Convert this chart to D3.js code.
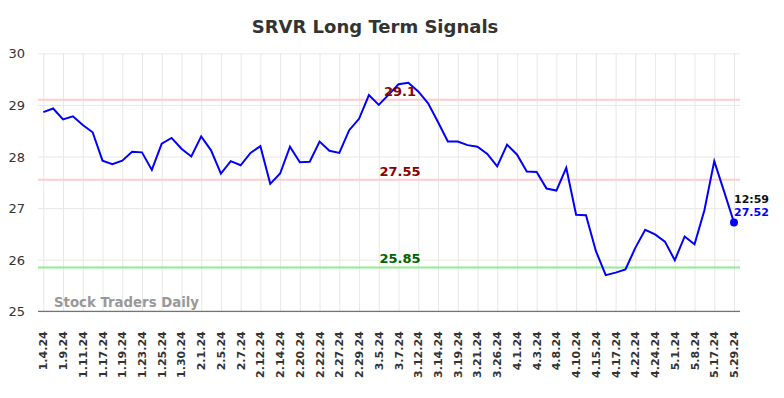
<!DOCTYPE html>
<html>
<head>
<meta charset="utf-8">
<script src="https://cdn.jsdelivr.net/npm/d3@7"></script>
<style>
  body { margin: 0; background: #fff; }
  svg { font-family: "DejaVu Sans", sans-serif; }
  .grid line { stroke: #e8e8e8; }
  .grid path { display: none; }
</style>
</head>
<body>
<div id="chart"></div>
<script>
// tick labels under every second point
const dateLabels = ["1.4.24", "1.9.24", "1.11.24", "1.17.24", "1.19.24", "1.23.24", "1.25.24", "1.30.24",
  "2.1.24", "2.5.24", "2.7.24", "2.12.24", "2.14.24", "2.20.24", "2.22.24", "2.27.24", "2.29.24",
  "3.5.24", "3.7.24", "3.12.24", "3.14.24", "3.19.24", "3.21.24", "3.26.24", "4.1.24", "4.3.24",
  "4.8.24", "4.10.24", "4.15.24", "4.17.24", "4.22.24", "4.24.24", "5.1.24", "5.8.24", "5.17.24", "5.29.24"];

// closing prices
const prices = [28.86, 28.93, 28.72, 28.78, 28.61, 28.47, 27.92, 27.85, 27.92, 28.09,
  28.08, 27.74, 28.25, 28.36, 28.15, 28.00, 28.39, 28.12, 27.67, 27.91,
  27.83, 28.07, 28.20, 27.47, 27.67, 28.19, 27.89, 27.90, 28.29, 28.11,
  28.07, 28.51, 28.73, 29.19, 29.00, 29.20, 29.40, 29.43, 29.26, 29.03,
  28.67, 28.29, 28.29, 28.22, 28.19, 28.05, 27.81, 28.23, 28.04, 27.71,
  27.70, 27.38, 27.34, 27.78, 26.87, 26.86, 26.17, 25.70, 25.75, 25.81,
  26.23, 26.58, 26.49, 26.35, 25.99, 26.45, 26.30, 26.96, 27.91, 27.32, 26.72];

const signalValues = [29.1, 27.55, 25.85];
const signalNames = ["29.1", "27.55", "25.85"];
const yTicks = [25, 26, 27, 28, 29, 30];
const lastTime = "12:59";
const lastPrice = "27.52";

const width = 784, height = 398;
const plot = { left: 38, right: 740, top: 53.3, bottom: 311.3 };

const svg = d3.select("#chart").append("svg")
  .attr("width", width)
  .attr("height", height);

const x = d3.scaleLinear().domain([0, prices.length - 1]).range([43.3, 734]);
const y = d3.scaleLinear().domain([25, 30]).range([plot.bottom, plot.top]);

// horizontal grid
svg.append("g")
  .attr("class", "grid")
  .attr("transform", `translate(${plot.left},0)`)
  .call(d3.axisLeft(y).tickValues(yTicks).tickSize(-(plot.right - plot.left)).tickFormat(""));

// vertical grid, one per label
const labelIdx = dateLabels.map((d, i) => i * 2);
svg.append("g")
  .attr("class", "grid")
  .attr("transform", `translate(0,${plot.bottom})`)
  .call(d3.axisBottom(x).tickValues(labelIdx).tickSize(-(plot.bottom - plot.top)).tickFormat(""));

// y labels
svg.append("g")
  .selectAll("text")
  .data(yTicks)
  .join("text")
  .attr("x", 25)
  .attr("y", d => y(d) + 5)
  .attr("text-anchor", "end")
  .attr("font-size", 13)
  .attr("fill", "#333")
  .text(d => d);

// x labels, rotated
svg.append("g")
  .selectAll("text")
  .data(dateLabels)
  .join("text")
  .attr("transform", (d, i) => `translate(${x(i * 2) + 4},${plot.bottom + 20}) rotate(-90)`)
  .attr("text-anchor", "end")
  .attr("font-size", 11)
  .attr("font-weight", "bold")
  .attr("fill", "#333")
  .text(d => d);

// signal lines
const signalColors = ["#ffcccc", "#ffcccc", "#90ee90"];
const signalText = ["#8b0000", "#8b0000", "#006400"];
svg.append("g")
  .selectAll("line")
  .data(signalValues)
  .join("line")
  .attr("x1", plot.left)
  .attr("x2", plot.right)
  .attr("y1", d => y(d))
  .attr("y2", d => y(d))
  .attr("stroke", (d, i) => signalColors[i])
  .attr("stroke-width", 2);

// watermark
svg.append("text")
  .attr("x", 54)
  .attr("y", 307)
  .attr("font-size", 13.3)
  .attr("font-weight", "bold")
  .attr("fill", "#999")
  .text("Stock Traders Daily");

// bottom axis line
svg.append("line")
  .attr("x1", plot.left)
  .attr("x2", plot.right)
  .attr("y1", plot.bottom)
  .attr("y2", plot.bottom)
  .attr("stroke", "#555")
  .attr("stroke-width", 1);

// price line
const line = d3.line()
  .x((d, i) => x(i))
  .y(d => y(d));

svg.append("path")
  .datum(prices)
  .attr("fill", "none")
  .attr("stroke", "#0000ff")
  .attr("stroke-width", 2)
  .attr("d", line);

// signal labels on top
svg.append("g")
  .selectAll("text")
  .data(signalValues)
  .join("text")
  .attr("x", 400)
  .attr("y", d => y(d) - 4)
  .attr("text-anchor", "middle")
  .attr("font-size", 13)
  .attr("font-weight", "bold")
  .attr("fill", (d, i) => signalText[i])
  .text((d, i) => signalNames[i]);

// last point
const last = prices.length - 1;
svg.append("circle")
  .attr("cx", x(last))
  .attr("cy", y(prices[last]))
  .attr("r", 4)
  .attr("fill", "#0000ff");

svg.append("text")
  .attr("x", 734)
  .attr("y", 203)
  .attr("font-size", 11)
  .attr("font-weight", "bold")
  .attr("fill", "#111")
  .text(lastTime);

svg.append("text")
  .attr("x", 734)
  .attr("y", 216)
  .attr("font-size", 11)
  .attr("font-weight", "bold")
  .attr("fill", "#0000ff")
  .text(lastPrice);

// title
svg.append("text")
  .attr("x", 375)
  .attr("y", 33)
  .attr("text-anchor", "middle")
  .attr("font-size", 18)
  .attr("font-weight", "bold")
  .attr("fill", "#333")
  .text("SRVR Long Term Signals");
</script>
</body>
</html>
